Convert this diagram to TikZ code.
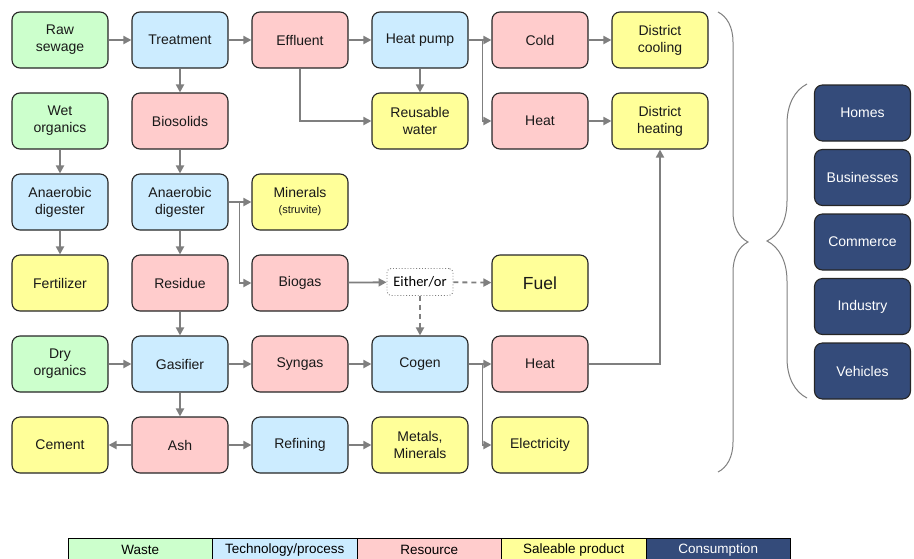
\documentclass[tikz,border=0pt]{standalone}
\usepackage{fontspec}
\setmainfont{Liberation Sans}
\newfontfamily\calibrifont{Carlito}
\usetikzlibrary{arrows.meta,decorations.pathreplacing}

\definecolor{wastegreen}{HTML}{CCFFCC}
\definecolor{techblue}{HTML}{CCECFF}
\definecolor{resourcepink}{HTML}{FFCCCC}
\definecolor{productyellow}{HTML}{FFFF99}
\definecolor{usenavy}{HTML}{344B7A}
\definecolor{linegray}{HTML}{7F7F7F}
\definecolor{boxedge}{HTML}{262626}

\begin{document}
\begin{tikzpicture}[x=1pt,y=-1pt]
\tikzstyle{box}=[rectangle, rounded corners=8pt, draw=boxedge, line width=1.1pt, minimum width=96pt, minimum height=56pt, inner sep=2pt, align=center, font=\fontsize{14}{17}\selectfont, text=black!90]
\tikzstyle{waste}=[box, fill=wastegreen]
\tikzstyle{tech}=[box, fill=techblue]
\tikzstyle{resource}=[box, fill=resourcepink]
\tikzstyle{product}=[box, fill=productyellow]
\tikzstyle{use}=[box, fill=usenavy, text=white]
\tikzstyle{choice}=[rectangle, rounded corners=4pt, draw=linegray, dotted, line width=0.9pt, fill=white, minimum width=66pt, minimum height=27pt, inner sep=1pt, font=\calibrifont\fontsize{14.5}{17}\selectfont]
\tikzstyle{flow}=[draw=linegray, line width=1.8pt, -{Triangle[length=8pt,width=8pt]}]
\tikzstyle{maybe}=[flow, dash pattern=on 5pt off 4pt]
\tikzstyle{bracket}=[draw=linegray, line width=1pt, decorate]
\tikzstyle{legend}=[rectangle, draw=black, line width=0.8pt, minimum width=144.5pt, minimum height=24pt, inner sep=0pt, font=\fontsize{13.5}{16}\selectfont]

\useasboundingbox (0,0) rectangle (914,558);

% row 1
\node[waste] (rawsewage) at (60,40) {Raw\\sewage};
\node[tech] (treatment) at (180,40) {Treatment};
\node[resource] (effluent) at (300,40) {Effluent};
\node[tech] (heatpump) at (420,40) {Heat pump};
\node[resource] (cold) at (540,40) {Cold};
\node[product] (cooling) at (660,40) {District\\cooling};
% row 2
\node[waste] (wetorganics) at (60,121) {Wet\\organics};
\node[resource] (biosolids) at (180,121) {Biosolids};
\node[product] (water) at (420,121) {Reusable\\water};
\node[resource] (pumpheat) at (540,121) {Heat};
\node[product] (heating) at (660,121) {District\\heating};
% row 3
\node[tech] (adwet) at (60,202) {Anaerobic\\digester};
\node[tech] (adbio) at (180,202) {Anaerobic\\digester};
\node[product] (minerals) at (300,202) {Minerals\\[-1pt]{\fontsize{11}{12}\selectfont(struvite)}};
% row 4
\node[product] (fertilizer) at (60,283) {Fertilizer};
\node[resource] (residue) at (180,283) {Residue};
\node[resource] (biogas) at (300,283) {Biogas};
\node[choice] (eitheror) at (420,282) {Either/or};
\node[product, font=\fontsize{17.5}{20}\selectfont] (fuel) at (540,283) {Fuel};
% row 5
\node[waste] (dryorganics) at (60,364) {Dry\\organics};
\node[tech] (gasifier) at (180,364) {Gasifier};
\node[resource] (syngas) at (300,364) {Syngas};
\node[tech] (cogen) at (420,364) {Cogen};
\node[resource] (cogenheat) at (540,364) {Heat};
% row 6
\node[product] (cement) at (60,445) {Cement};
\node[resource] (ash) at (180,445) {Ash};
\node[tech] (refining) at (300,445) {Refining};
\node[product] (metals) at (420,445) {Metals,\\Minerals};
\node[product] (electricity) at (540,445) {Electricity};

% consumption
\foreach \name [count=\i] in {Homes,Businesses,Commerce,Industry,Vehicles} {
\node[use] (use\i) at (862.5,{48.5+64.5*\i}) {\name};
}

% flows
\draw[flow] (rawsewage) -- (treatment);
\draw[flow] (treatment) -- (effluent);
\draw[flow] (effluent) -- (heatpump);
\draw[flow] (heatpump) -- (cold);
\draw[flow] (heatpump.east) -- ++(14,0) |- (pumpheat);
\draw[flow] (cold) -- (cooling);
\draw[flow] (pumpheat) -- (heating);
\draw[flow] (heatpump) -- (water);
\draw[flow] (effluent) |- (water);
\draw[flow] (treatment) -- (biosolids);
\draw[flow] (wetorganics) -- (adwet);
\draw[flow] (biosolids) -- (adbio);
\draw[flow] (adwet) -- (fertilizer);
\draw[flow] (adbio) -- (residue);
\draw[flow] (adbio) -- (minerals);
\draw[flow] (adbio.east) -- ++(11,0) |- (biogas);
\draw[flow] (residue) -- (gasifier);
\draw[flow] (dryorganics) -- (gasifier);
\draw[flow] (gasifier) -- (syngas);
\draw[flow] (syngas) -- (cogen);
\draw[flow] (gasifier) -- (ash);
\draw[flow] (ash) -- (cement);
\draw[flow] (ash) -- (refining);
\draw[flow] (refining) -- (metals);
\draw[flow] (biogas) -- (eitheror);
\draw[maybe] (eitheror) -- (fuel);
\draw[maybe] (eitheror) -- (cogen);
\draw[flow] (cogen) -- (cogenheat);
\draw[flow] (cogen.east) -- ++(14,0) |- (electricity);
\draw[flow] (cogenheat) -| (heating);

% brackets
\coordinate (outtop) at (718,12);
\coordinate (outbottom) at (718,472);
\coordinate (usetop) at (807,84);
\coordinate (usebottom) at (807,398);
\draw[bracket, decoration={brace, amplitude=30pt}] (outtop) -- (outbottom);
\draw[bracket, decoration={brace, amplitude=40pt}] (usebottom) -- (usetop);

% legend
\node[legend, fill=wastegreen] (keywaste) at (140.25,550) {Waste};
\node[legend, fill=techblue] (keytech) at (284.75,550) {Technology/process};
\node[legend, fill=resourcepink] (keyresource) at (429.25,550) {Resource};
\node[legend, fill=productyellow] (keyproduct) at (573.75,550) {Saleable product};
\node[legend, fill=usenavy, text=white] (keyuse) at (718.25,550) {Consumption};
\end{tikzpicture}
\end{document}
